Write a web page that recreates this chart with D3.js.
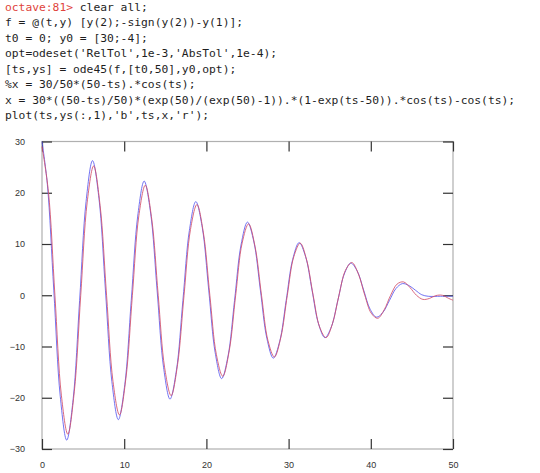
<!DOCTYPE html>
<html><head><meta charset="utf-8">
<script src="https://cdn.jsdelivr.net/npm/d3@7"></script>
<style>html,body{margin:0;padding:0;background:#fff;}svg{display:block;}</style>
</head><body>
<svg id="c" width="540" height="473"></svg>
<script>
// Terminal lines
const promptText = "octave:81>";
const codeLines = [
  " clear all;",
  "f = @(t,y) [y(2);-sign(y(2))-y(1)];",
  "t0 = 0; y0 = [30;-4];",
  "opt=odeset('RelTol',1e-3,'AbsTol',1e-4);",
  "[ts,ys] = ode45(f,[t0,50],y0,opt);",
  "%x = 30/50*(50-ts).*cos(ts);",
  "x = 30*((50-ts)/50)*(exp(50)/(exp(50)-1)).*(1-exp(ts-50)).*cos(ts)-cos(ts);",
  "plot(ts,ys(:,1),'b',ts,x,'r');"
];

// Axis ticks
const xTicks = [0, 10, 20, 30, 40, 50];
const yTicks = [-30, -20, -10, 0, 10, 20, 30];

// Blue series (ode45 solution): t and x
const blueT = [0,0.648,1.434,2.219,3.005,3.79,4.576,5.361,6.146,6.931,7.717,8.502,9.288,10.073,10.859,11.644,12.43,13.215,14.0,14.786,15.571,16.356,17.142,17.927,18.713,19.498,20.284,21.069,21.854,22.639,23.425,24.21,24.996,25.781,26.567,27.352,28.137,28.922,29.708,30.493,31.279,32.064,32.85,33.635,34.42,35.205,35.991,36.776,37.562,38.347,39.133,39.918,40.704,41.489,42.275,43.06,43.845,44.63,45.416,46.201,46.987,48.5,50];
const blueX = [30,21.7,1,-19.7,-28.27,-20.28,-1,18.28,26.27,18.87,1,-16.87,-24.27,-17.45,-1,15.45,22.27,16.04,1,-14.04,-20.27,-14.62,-1,12.62,18.27,13.21,1,-11.21,-16.27,-11.8,-1,9.8,14.27,10.38,1,-8.38,-12.27,-8.97,-1,6.97,10.27,7.55,1,-5.55,-8.27,-6.14,-1,4.14,6.27,4.73,1,-2.73,-4.27,-3.31,-1,1.31,2.27,1.9,1,0.1,-0.2,-0.2,-0.2];

// Red series (approximate formula curve): t and x
const redT = [0,0.785,1.571,2.356,3.142,3.927,4.712,5.498,6.283,7.069,7.854,8.639,9.425,10.21,10.996,11.781,12.566,13.352,14.137,14.923,15.708,16.493,17.279,18.064,18.85,19.635,20.42,21.206,21.991,22.777,23.562,24.347,25.133,25.918,26.704,27.489,28.274,29.06,29.845,30.631,31.416,32.201,32.987,33.772,34.558,35.343,36.128,36.914,37.699,38.485,39.27,40.055,40.841,41.626,42.412,43.197,43.982,44.768,45.553,46.338,47.124,47.909,48.695,49.48,50];
const redX = [29,20.17,0,-19.5,-27.11,-18.84,0,18.17,25.23,17.5,0,-16.84,-23.35,-16.17,0,15.51,21.46,14.84,0,-14.17,-19.58,-13.51,0,12.84,17.69,12.17,0,-11.51,-15.81,-10.84,0,10.18,13.92,9.51,0,-8.84,-12.04,-8.18,0,7.51,10.15,6.84,0,-6.18,-8.27,-5.51,0,4.85,6.38,4.18,0,-3.51,-4.5,-2.85,0,2.18,2.6,1.5,0,-0.81,-0.63,-0.07,0,-0.62,-0.965];

const svg = d3.select("#c");

// terminal text
const tg = svg.append("g").attr("font-family", "'DejaVu Sans Mono', monospace").attr("font-size", 11.3);
codeLines.forEach((line, i) => {
  const t = tg.append("text").attr("x", 5).attr("y", 10.5 + i * 15.5)
    .attr("fill", "#1e1e1e").style("white-space", "pre");
  if (i === 0) {
    t.append("tspan").attr("fill", "#e0443c").text(promptText);
    t.append("tspan").text(line);
  } else {
    t.text(line);
  }
});

// plot area
const L = 42, R = 453, T = 141.5, B = 449;
const x = d3.scaleLinear().domain([0, 50]).range([L, R]);
const y = d3.scaleLinear().domain([-30, 30]).range([B, T]);

// frame
svg.append("rect").attr("x", L).attr("y", T).attr("width", R - L).attr("height", B - T)
  .attr("fill", "none").attr("stroke", "#b0b0b0").attr("stroke-width", 1.2);

const tickLen = 10;
const axisStyle = g => {
  g.select(".domain").remove();
  g.selectAll(".tick line").attr("stroke", "#333").attr("stroke-width", 1.2);
  g.selectAll(".tick text").attr("fill", "#333").attr("font-family", "'Liberation Sans', Arial, sans-serif").attr("font-size", 9);
};
svg.append("g").attr("transform", `translate(0,${B})`)
  .call(d3.axisBottom(x).tickValues(xTicks).tickSize(-tickLen).tickPadding(13).tickFormat(d3.format("d")))
  .call(axisStyle);
svg.append("g").attr("transform", `translate(0,${T})`)
  .call(d3.axisTop(x).tickValues(xTicks).tickSize(-tickLen).tickFormat(""))
  .call(axisStyle);
svg.append("g").attr("transform", `translate(${L},0)`)
  .call(d3.axisLeft(y).tickValues(yTicks).tickSize(-tickLen).tickPadding(17).tickFormat(d3.format("d")))
  .call(axisStyle);
svg.append("g").attr("transform", `translate(${R},0)`)
  .call(d3.axisRight(y).tickValues(yTicks).tickSize(-tickLen).tickFormat(""))
  .call(axisStyle);

const line = d3.line().x(d => x(d[0])).y(d => y(d[1])).curve(d3.curveCatmullRom.alpha(0.5));
svg.append("path").datum(blueT.map((t, i) => [t, blueX[i]]))
  .attr("d", line).attr("fill", "none").attr("stroke", "#5b5bf0").attr("stroke-width", 1).attr("stroke-opacity", 0.85);
svg.append("path").datum(redT.map((t, i) => [t, redX[i]]))
  .attr("d", line).attr("fill", "none").attr("stroke", "#d2506a").attr("stroke-width", 1).attr("stroke-opacity", 0.85);
</script>
</body></html>
